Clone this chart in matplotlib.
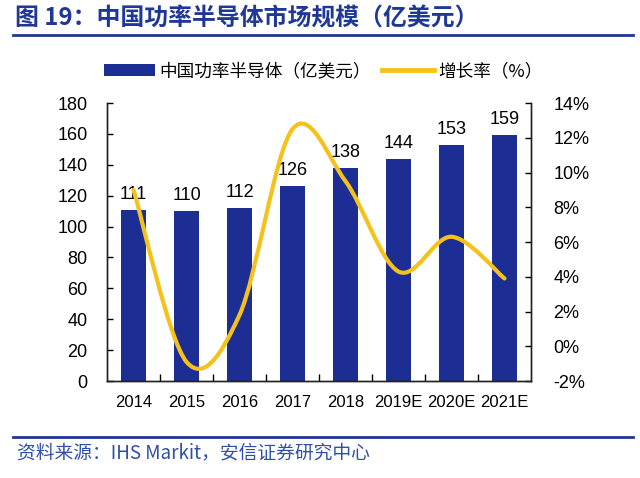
import matplotlib
matplotlib.use('Agg')
import matplotlib.pyplot as plt
import numpy as np
from matplotlib.path import Path
from matplotlib.patches import PathPatch, Patch
from matplotlib.lines import Line2D
from matplotlib.ticker import MultipleLocator, FuncFormatter

plt.rcParams['font.family'] = ['Liberation Sans', 'Noto Sans CJK SC', 'DejaVu Sans']

# data
years = ['2014', '2015', '2016', '2017', '2018', '2019E', '2020E', '2021E']
market = [111, 110, 112, 126, 138, 144, 153, 159]      # 亿美元
growth = [9.0, -0.9, 1.8, 12.5, 9.5, 4.3, 6.3, 3.9]    # %

bar_color = '#1C2E94'
line_color = '#F5C21B'
blue = '#1F3796'
cjk = ['Noto Sans CJK SC', 'DejaVu Sans']


def smooth_path(xs, ys):
    # excel-like smoothed line: catmull-rom segments as cubic bezier
    pts = np.column_stack([xs, ys]).astype(float)
    ext = np.vstack([pts[0], pts, pts[-1]])
    verts = [pts[0]]
    codes = [Path.MOVETO]
    for i in range(1, len(ext) - 2):
        p0, p1, p2, p3 = ext[i - 1], ext[i], ext[i + 1], ext[i + 2]
        c1 = p1 + (p2 - p0) / 6
        c2 = p2 - (p3 - p1) / 6
        verts += [c1, c2, p2]
        codes += [Path.CURVE4] * 3
    return Path(verts, codes)


def main():
    fig = plt.figure(figsize=(6.4, 4.78), dpi=100)
    ax = fig.add_axes([107/640, 1-381/478, 424/640, 278/478])
    ax2 = ax.twinx()

    x = np.arange(len(years))
    bars = ax.bar(x, market, width=0.47, color=bar_color, zorder=2)
    ax.bar_label(bars, labels=[str(v) for v in market], padding=5, fontsize=13)

    ax.set_xlim(-0.5, len(years) - 0.5)
    ax.set_ylim(0, 180)
    ax.yaxis.set_major_locator(MultipleLocator(20))
    ax.set_xticks(x)
    ax.set_xticklabels(years, fontsize=12)
    ax.set_xticks(np.arange(0.5, len(years) - 0.5, 1), minor=True)
    ax.tick_params(axis='x', which='major', length=0, pad=10)
    ax.tick_params(axis='x', which='minor', direction='in', length=5, width=1)
    ax.tick_params(axis='y', direction='in', length=4, width=1, labelsize=13, pad=14)

    ax2.set_ylim(-2, 14)
    ax2.yaxis.set_major_locator(MultipleLocator(2))
    ax2.yaxis.set_major_formatter(FuncFormatter(lambda v, p: f'{int(round(v))}%'.replace('\u2212', '-')))
    ax2.tick_params(axis='y', direction='in', length=4, width=1, labelsize=13, pad=16)

    path = smooth_path(x, growth)
    ax2.add_patch(PathPatch(path, facecolor='none', edgecolor=line_color, lw=3, capstyle='round', zorder=3))

    for a in (ax, ax2):
        a.spines['top'].set_visible(False)
        for s in ('left', 'right', 'bottom'):
            a.spines[s].set_linewidth(1)
            a.spines[s].set_color('#222222')

    # legend
    handles = [Patch(facecolor=bar_color), Line2D([0], [0], color=line_color, lw=3.5)]
    fig.legend(handles, ['中国功率半导体（亿美元）', '增长率（%）'], loc='center',
               bbox_to_anchor=(0.505, 1-71/478), ncol=2, frameon=False,
               handlelength=2.9, handleheight=0.65, handletextpad=0.25, columnspacing=0.65,
               prop={'family': cjk, 'size': 12.7})

    # title and footer
    fig.text(15/640, 1-19/478, '图 19：中国功率半导体市场规模（亿美元）', fontsize=17.2,
             fontweight='bold', color=blue, va='center', ha='left', family=cjk)
    fig.add_artist(Line2D([13/640, 633/640], [1-34.5/478, 1-34.5/478], color=blue, lw=2))
    fig.add_artist(Line2D([13/640, 633/640], [1-437/478, 1-437/478], color=blue, lw=2))
    fig.text(17/640, 1-453/478, '资料来源：IHS Markit，安信证券研究中心', fontsize=13.5,
             style='italic', color='#2D4FA8', va='center', ha='left', family=cjk)

    fig.savefig('out.png', dpi=100)


if __name__ == "__main__":
    main()
